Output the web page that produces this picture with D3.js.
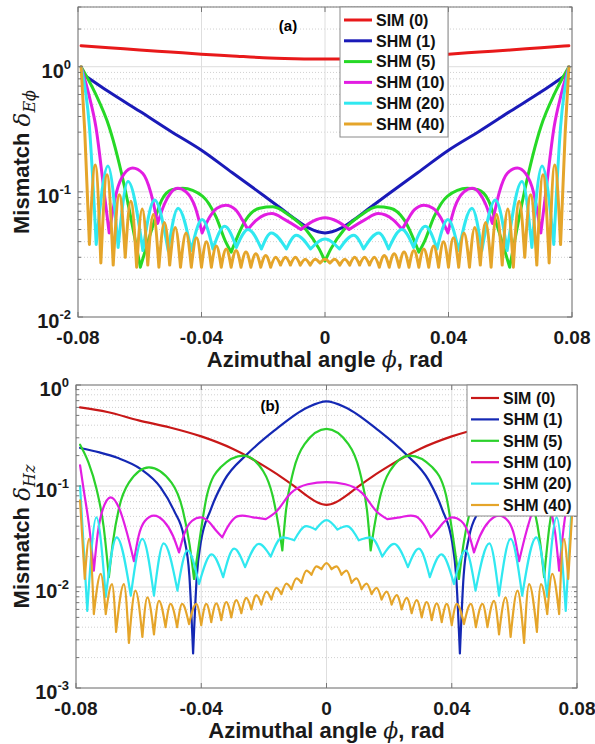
<!DOCTYPE html>
<html>
<head>
<meta charset="utf-8">
<script src="https://cdn.jsdelivr.net/npm/d3@7"></script>
<style>
  body { margin: 0; background: #fff; }
  svg { display: block; }
</style>
</head>
<body>
<div id="chart"></div>
<script>
// ---------- data ----------
const xTicks = [-0.08, -0.04, 0, 0.04, 0.08];
const xTickLabels = ["-0.08", "-0.04", "0", "0.04", "0.08"];
const seriesNames = ["SIM (0)", "SHM (1)", "SHM (5)", "SHM (10)", "SHM (20)", "SHM (40)"];
const aExponents = [-2, -1, 0];
const bExponents = [-3, -2, -1, 0];

// panel (a): mismatch of E_phi
const aSim = [[-0.079,1.47],[-0.07,1.42],[-0.06,1.36],[-0.05,1.31],[-0.04,1.26],[-0.03,1.22],[-0.02,1.18],[-0.01,1.16],[0,1.15],
  [0.01,1.16],[0.02,1.18],[0.03,1.22],[0.04,1.26],[0.05,1.31],[0.06,1.36],[0.07,1.42],[0.079,1.47]];
const aShm1 = [[-0.078,0.86],[-0.07,0.63],[-0.06,0.44],[-0.05,0.305],[-0.04,0.215],[-0.03,0.142],[-0.02,0.094],[-0.014,0.073],
  [-0.009,0.059],[-0.005,0.051],[0,0.047],[0.005,0.051],[0.009,0.059],[0.014,0.073],[0.02,0.094],[0.03,0.142],[0.04,0.215],
  [0.05,0.305],[0.06,0.44],[0.07,0.63],[0.078,0.86]];
const aShm5 = [[-0.079,1.0],[-0.0745,0.62],[-0.0699,0.33],[-0.0645,0.098],[-0.062,0.048],[-0.0598,0.025],[-0.0558,0.053],
  [-0.0529,0.086],[-0.0496,0.104],[-0.0461,0.107],[-0.0396,0.092],[-0.0353,0.063],[-0.0322,0.04],[-0.0304,0.033],[-0.0256,0.06],
  [-0.0212,0.074],[-0.0169,0.076],[-0.0116,0.065],[-0.0062,0.05],[-0.0019,0.035],[0,0.028],[0.0019,0.035],[0.0062,0.05],
  [0.0116,0.065],[0.0169,0.076],[0.0212,0.074],[0.0256,0.06],[0.0304,0.033],[0.0322,0.04],[0.0353,0.063],[0.0396,0.092],
  [0.0461,0.107],[0.0496,0.104],[0.0529,0.086],[0.0558,0.053],[0.0598,0.025],[0.062,0.048],[0.0645,0.098],[0.0699,0.33],
  [0.0745,0.62],[0.079,1.0]];
const aShm10 = [[-0.079,1.0],[-0.0765,0.6],[-0.0742,0.33],[-0.0715,0.098],[-0.0699,0.047],[-0.0675,0.1],[-0.065,0.14],
  [-0.0623,0.155],[-0.059,0.14],[-0.0565,0.1],[-0.0542,0.056],[-0.052,0.08],[-0.05,0.098],[-0.0477,0.107],[-0.045,0.1],
  [-0.042,0.075],[-0.0398,0.047],[-0.0375,0.062],[-0.035,0.074],[-0.0321,0.078],[-0.029,0.072],[-0.0268,0.06],[-0.025,0.05],
  [-0.022,0.06],[-0.0172,0.067],[-0.013,0.06],[-0.0078,0.05],[-0.004,0.058],[0,0.062],[0.004,0.058],[0.0078,0.05],[0.013,0.06],
  [0.0172,0.067],[0.022,0.06],[0.025,0.05],[0.0268,0.06],[0.029,0.072],[0.0321,0.078],[0.035,0.074],[0.0375,0.062],[0.0398,0.047],
  [0.042,0.075],[0.045,0.1],[0.0477,0.107],[0.05,0.098],[0.052,0.08],[0.0542,0.056],[0.0565,0.1],[0.059,0.14],[0.0623,0.155],
  [0.065,0.14],[0.0675,0.1],[0.0699,0.047],[0.0715,0.098],[0.0742,0.33],[0.0765,0.6],[0.079,1.0]];
const aShm20 = [[-0.079,1.0],[-0.0763,0.33],[-0.0741,0.038],[-0.0703,0.161],[-0.067,0.036],[-0.0638,0.121],[-0.059,0.034],
  [-0.0552,0.086],[-0.0508,0.034],[-0.0476,0.074],[-0.0433,0.034],[-0.0398,0.06],[-0.0363,0.035],[-0.0325,0.053],[-0.0287,0.036],
  [-0.0249,0.05],[-0.0206,0.035],[-0.0174,0.047],[-0.0125,0.035],[-0.0093,0.045],[-0.0047,0.035],[0,0.042],[0.0047,0.035],
  [0.0093,0.045],[0.0125,0.035],[0.0174,0.047],[0.0206,0.035],[0.0249,0.05],[0.0287,0.036],[0.0325,0.053],[0.0363,0.035],
  [0.0398,0.06],[0.0433,0.034],[0.0476,0.074],[0.0508,0.034],[0.0552,0.086],[0.059,0.034],[0.0638,0.121],[0.067,0.036],
  [0.0703,0.161],[0.0741,0.038],[0.0763,0.33],[0.079,1.0]];
const aShm40 = [[-0.079,1.0],[-0.0778,0.3],[-0.0763,0.038],[-0.0744,0.164],[-0.0726,0.027],[-0.0706,0.137],[-0.0686,0.026],
  [-0.0666,0.095],[-0.0647,0.03],[-0.0629,0.084],[-0.061,0.025],[-0.0592,0.073],[-0.0574,0.026],[-0.0556,0.066],[-0.0538,0.025],
  [-0.052,0.057],[-0.0503,0.026],[-0.0485,0.052],[-0.0468,0.025],[-0.045,0.047],[-0.0433,0.025],[-0.0416,0.043],[-0.04,0.025],
  [-0.0384,0.04],[-0.0368,0.025],[-0.0352,0.037],[-0.0336,0.025],[-0.032,0.035],[-0.0304,0.025],[-0.0288,0.034],[-0.0272,0.025],
  [-0.0256,0.033],[-0.024,0.025],[-0.0224,0.032],[-0.0208,0.025],[-0.0192,0.031],[-0.0176,0.025],[-0.016,0.03],[-0.0144,0.026],
  [-0.0128,0.03],[-0.0112,0.026],[-0.0096,0.03],[-0.008,0.026],[-0.0064,0.029],[-0.0048,0.026],[-0.0032,0.029],[-0.0016,0.027],
  [0,0.029],[0.0016,0.027],[0.0032,0.029],[0.0048,0.026],[0.0064,0.029],[0.008,0.026],[0.0096,0.03],[0.0112,0.026],[0.0128,0.03],
  [0.0144,0.026],[0.016,0.03],[0.0176,0.025],[0.0192,0.031],[0.0208,0.025],[0.0224,0.032],[0.024,0.025],[0.0256,0.033],
  [0.0272,0.025],[0.0288,0.034],[0.0304,0.025],[0.032,0.035],[0.0336,0.025],[0.0352,0.037],[0.0368,0.025],[0.0384,0.04],
  [0.04,0.025],[0.0416,0.043],[0.0433,0.025],[0.045,0.047],[0.0468,0.025],[0.0485,0.052],[0.0503,0.026],[0.052,0.057],
  [0.0538,0.025],[0.0556,0.066],[0.0574,0.026],[0.0592,0.073],[0.061,0.025],[0.0629,0.084],[0.0647,0.03],[0.0666,0.095],
  [0.0686,0.026],[0.0706,0.137],[0.0726,0.027],[0.0744,0.164],[0.0763,0.038],[0.0778,0.3],[0.079,1.0]];

// panel (b): mismatch of H_z
const bSim = [[-0.0787,0.6],[-0.07,0.54],[-0.06,0.447],[-0.05,0.38],[-0.04,0.31],[-0.03,0.234],[-0.025,0.195],[-0.02,0.158],
  [-0.015,0.126],[-0.01,0.098],[-0.006,0.079],[-0.003,0.069],[0,0.065],[0.003,0.069],[0.006,0.079],[0.01,0.098],[0.015,0.126],
  [0.02,0.158],[0.025,0.195],[0.03,0.234],[0.04,0.31],[0.05,0.38],[0.06,0.447],[0.07,0.54],[0.0787,0.6]];
const bShm1 = [[-0.0787,0.238],[-0.0725,0.215],[-0.0668,0.19],[-0.0593,0.147],[-0.053,0.097],[-0.0487,0.057],[-0.0455,0.031],
  [-0.0438,0.013],[-0.0426,0.0022],[-0.0414,0.013],[-0.0402,0.027],[-0.037,0.058],[-0.0327,0.113],[-0.0253,0.207],
  [-0.0167,0.353],[-0.0061,0.6],[0,0.69],[0.0061,0.6],[0.0167,0.353],[0.0253,0.207],[0.0327,0.113],[0.037,0.058],
  [0.0402,0.027],[0.0414,0.013],[0.0426,0.0022],[0.0438,0.013],[0.0455,0.031],[0.0487,0.057],[0.053,0.097],[0.0593,0.147],
  [0.0668,0.19],[0.0725,0.215],[0.0787,0.238]];
const bShm5 = [[-0.0787,0.256],[-0.076,0.17],[-0.0735,0.095],[-0.0712,0.04],[-0.0695,0.0125],[-0.0682,0.028],[-0.0663,0.06],
  [-0.0631,0.108],[-0.0567,0.153],[-0.0495,0.108],[-0.0459,0.058],[-0.0437,0.026],[-0.0423,0.012],[-0.0407,0.027],
  [-0.0381,0.083],[-0.0338,0.153],[-0.0265,0.2],[-0.0202,0.14],[-0.0172,0.08],[-0.0153,0.04],[-0.0141,0.023],[-0.013,0.055],
  [-0.0106,0.14],[-0.007,0.26],[0,0.367],[0.007,0.26],[0.0106,0.14],[0.013,0.055],[0.0141,0.023],[0.0153,0.04],[0.0172,0.08],
  [0.0202,0.14],[0.0265,0.2],[0.0338,0.153],[0.0381,0.083],[0.0407,0.027],[0.0423,0.012],[0.0437,0.026],[0.0459,0.058],
  [0.0495,0.108],[0.0567,0.153],[0.0631,0.108],[0.0663,0.06],[0.0682,0.028],[0.0695,0.0125],[0.0712,0.04],[0.0735,0.095],
  [0.076,0.17],[0.0787,0.256]];
const bShm10 = [[-0.0787,0.16],[-0.0775,0.09],[-0.0758,0.04],[-0.0743,0.0145],[-0.073,0.035],[-0.0715,0.058],[-0.0689,0.077],
  [-0.0662,0.06],[-0.0638,0.035],[-0.0615,0.018],[-0.06,0.032],[-0.058,0.045],[-0.0551,0.051],[-0.052,0.045],[-0.049,0.032],
  [-0.0471,0.022],[-0.0455,0.033],[-0.043,0.045],[-0.0402,0.049],[-0.0375,0.044],[-0.0352,0.036],[-0.0333,0.031],[-0.031,0.042],
  [-0.0285,0.05],[-0.0269,0.051],[-0.0235,0.049],[-0.0194,0.047],[-0.016,0.056],[-0.0114,0.085],[-0.006,0.104],[0,0.109],
  [0.006,0.104],[0.0114,0.085],[0.016,0.056],[0.0194,0.047],[0.0235,0.049],[0.0269,0.051],[0.0285,0.05],[0.031,0.042],
  [0.0333,0.031],[0.0352,0.036],[0.0375,0.044],[0.0402,0.049],[0.043,0.045],[0.0455,0.033],[0.0471,0.022],[0.049,0.032],
  [0.052,0.045],[0.0551,0.051],[0.058,0.045],[0.06,0.032],[0.0615,0.018],[0.0638,0.035],[0.0662,0.06],[0.0689,0.077],
  [0.0715,0.058],[0.073,0.035],[0.0743,0.0145],[0.0758,0.04],[0.0775,0.09],[0.0787,0.16]];
const bShm20 = [[-0.0787,0.1],[-0.0777,0.03],[-0.0764,0.0058],[-0.0735,0.049],[-0.0705,0.008],[-0.067,0.031],[-0.0625,0.0082],
  [-0.0588,0.03],[-0.0551,0.0082],[-0.052,0.027],[-0.0476,0.0092],[-0.0444,0.023],[-0.0407,0.0107],[-0.0367,0.021],
  [-0.033,0.0125],[-0.0295,0.024],[-0.026,0.0157],[-0.0216,0.0267],[-0.0178,0.02],[-0.0141,0.031],[-0.0103,0.029],
  [-0.0065,0.04],[-0.0035,0.037],[0,0.046],[0.0035,0.037],[0.0065,0.04],[0.0103,0.029],[0.0141,0.031],[0.0178,0.02],
  [0.0216,0.0267],[0.026,0.0157],[0.0295,0.024],[0.033,0.0125],[0.0367,0.021],[0.0407,0.0107],[0.0444,0.023],[0.0476,0.0092],
  [0.052,0.027],[0.0551,0.0082],[0.0588,0.03],[0.0625,0.0082],[0.067,0.031],[0.0705,0.008],[0.0735,0.049],[0.0764,0.0058],
  [0.0777,0.03],[0.0787,0.1]];
const bShm40 = [[-0.0787,0.072],[-0.0772,0.012],[-0.0758,0.03],[-0.0743,0.0054],[-0.0721,0.0135],[-0.0705,0.0054],
  [-0.0685,0.0107],[-0.0672,0.0036],[-0.0647,0.0107],[-0.0631,0.0028],[-0.061,0.0092],[-0.0588,0.0032],[-0.0572,0.0079],
  [-0.0551,0.0034],[-0.0535,0.0073],[-0.0514,0.004],[-0.0498,0.0068],[-0.0477,0.004],[-0.0461,0.0068],[-0.0439,0.0043],
  [-0.0416,0.0068],[-0.04,0.0042],[-0.0384,0.0068],[-0.0368,0.0045],[-0.0352,0.0069],[-0.0336,0.0047],[-0.032,0.0071],
  [-0.0304,0.005],[-0.0288,0.0074],[-0.0272,0.0055],[-0.0256,0.0078],[-0.024,0.006],[-0.0224,0.0083],[-0.0208,0.0067],
  [-0.0192,0.009],[-0.0176,0.0075],[-0.016,0.0098],[-0.0144,0.0085],[-0.0128,0.0108],[-0.0112,0.0095],[-0.0096,0.0122],
  [-0.008,0.011],[-0.0064,0.0145],[-0.0048,0.0132],[-0.0032,0.016],[-0.0016,0.015],[0,0.0172],[0.0016,0.015],[0.0032,0.016],
  [0.0048,0.0132],[0.0064,0.0145],[0.008,0.011],[0.0096,0.0122],[0.0112,0.0095],[0.0128,0.0108],[0.0144,0.0085],[0.016,0.0098],
  [0.0176,0.0075],[0.0192,0.009],[0.0208,0.0067],[0.0224,0.0083],[0.024,0.006],[0.0256,0.0078],[0.0272,0.0055],[0.0288,0.0074],
  [0.0304,0.005],[0.032,0.0071],[0.0336,0.0047],[0.0352,0.0069],[0.0368,0.0045],[0.0384,0.0068],[0.04,0.0042],[0.0416,0.0068],
  [0.0439,0.0043],[0.0461,0.0068],[0.0477,0.004],[0.0498,0.0068],[0.0514,0.004],[0.0535,0.0073],[0.0551,0.0034],[0.0572,0.0079],
  [0.0588,0.0032],[0.061,0.0092],[0.0631,0.0028],[0.0647,0.0107],[0.0672,0.0036],[0.0685,0.0107],[0.0705,0.0054],[0.0721,0.0135],
  [0.0743,0.0054],[0.0758,0.03],[0.0772,0.012],[0.0787,0.072]];

// ---------- drawing ----------
const sans = "'Liberation Sans', Arial, sans-serif";
const serif = "'DejaVu Serif', 'Liberation Serif', serif";

const svg = d3.select("#chart").append("svg")
    .attr("width", 595)
    .attr("height", 744);

function pieces(pts) {
  // split a curve at its local minima so dips stay sharp
  const out = [];
  let cur = [pts[0]];
  for (let i = 1; i < pts.length; i++) {
    cur.push(pts[i]);
    if (i < pts.length - 1 && pts[i][1] < pts[i-1][1] && pts[i][1] < pts[i+1][1]) {
      out.push(cur);
      cur = [pts[i]];
    }
  }
  out.push(cur);
  return out;
}

function drawPanel(p) {
  const x = d3.scaleLinear().domain([-0.08, 0.08]).range([p.left, p.right]);
  const y = d3.scaleLog().domain(p.yDomain).range([p.bottom, p.top]);
  const g = svg.append("g");
  const isMajor = v => Math.abs(Math.log10(v) - Math.round(Math.log10(v))) < 1e-9;
  const yt = y.ticks();

  // grid
  g.selectAll(".minor").data(yt.filter(v => !isMajor(v))).enter().append("line")
    .attr("x1", p.left).attr("x2", p.right)
    .attr("y1", d => y(d)).attr("y2", d => y(d))
    .attr("stroke", "#c4c4c4").attr("stroke-width", 0.8).attr("stroke-dasharray", "1,2");
  g.selectAll(".major").data(yt.filter(isMajor)).enter().append("line")
    .attr("x1", p.left).attr("x2", p.right)
    .attr("y1", d => y(d)).attr("y2", d => y(d))
    .attr("stroke", "#dedede").attr("stroke-width", 1);
  g.selectAll(".vgrid").data(xTicks).enter().append("line")
    .attr("x1", d => x(d)).attr("x2", d => x(d))
    .attr("y1", p.top).attr("y2", p.bottom)
    .attr("stroke", "#dedede").attr("stroke-width", 1);

  // curves
  const clipId = "clip" + p.key;
  svg.append("clipPath").attr("id", clipId).append("rect")
    .attr("x", p.left).attr("y", p.top)
    .attr("width", p.right - p.left).attr("height", p.bottom - p.top);
  const line = d3.line().x(d => x(d[0])).y(d => y(d[1])).curve(d3.curveMonotoneX);
  const cg = g.append("g").attr("clip-path", `url(#${clipId})`);
  p.series.forEach((s, i) => {
    const parts = p.smooth.includes(i) ? [s] : pieces(s);
    cg.append("path")
      .attr("d", parts.map(line).join(""))
      .attr("fill", "none")
      .attr("stroke", p.colors[i])
      .attr("stroke-width", p.lw)
      .attr("stroke-linejoin", "round")
      .attr("stroke-linecap", "round");
  });

  // frame and ticks (inward, mirrored)
  g.append("rect")
    .attr("x", p.left).attr("y", p.top)
    .attr("width", p.right - p.left).attr("height", p.bottom - p.top)
    .attr("fill", "none").attr("stroke", "#767676").attr("stroke-width", 1);
  xTicks.forEach(t => {
    g.append("line").attr("x1", x(t)).attr("x2", x(t)).attr("y1", p.bottom).attr("y2", p.bottom - 5).attr("stroke", "#767676");
    g.append("line").attr("x1", x(t)).attr("x2", x(t)).attr("y1", p.top).attr("y2", p.top + 5).attr("stroke", "#767676");
  });
  yt.forEach(t => {
    const len = isMajor(t) ? 5 : 3;
    g.append("line").attr("x1", p.left).attr("x2", p.left + len).attr("y1", y(t)).attr("y2", y(t)).attr("stroke", "#767676");
    g.append("line").attr("x1", p.right).attr("x2", p.right - len).attr("y1", y(t)).attr("y2", y(t)).attr("stroke", "#767676");
  });

  // tick labels
  g.selectAll(".xl").data(xTicks).enter().append("text")
    .attr("x", d => x(d)).attr("y", p.bottom + 27)
    .attr("text-anchor", "middle")
    .attr("font-family", sans).attr("font-weight", "bold").attr("font-size", 19)
    .attr("fill", "#1a1a1a")
    .text((d, i) => xTickLabels[i]);
  p.exponents.forEach(e => {
    const t = g.append("text")
      .attr("x", p.left - 7).attr("y", y(Math.pow(10, e)) + 11)
      .attr("text-anchor", "end")
      .attr("font-family", sans).attr("font-weight", "bold").attr("fill", "#1a1a1a");
    t.append("tspan").attr("font-size", 20).text("10");
    t.append("tspan").attr("font-size", 13).attr("dy", -9).text(String(e));
  });

  // axis titles
  const xt = g.append("text")
    .attr("x", (p.left + p.right) / 2).attr("y", p.bottom + 50)
    .attr("text-anchor", "middle").attr("fill", "#1a1a1a").attr("font-size", 22);
  xt.append("tspan").attr("font-family", sans).attr("font-weight", "bold").text("Azimuthal angle ");
  xt.append("tspan").attr("font-family", serif).attr("font-style", "italic").text("\u03D5");
  xt.append("tspan").attr("font-family", sans).attr("font-weight", "bold").text(", rad");

  const ytl = g.append("text")
    .attr("transform", `translate(29,${(p.top + p.bottom) / 2}) rotate(-90)`)
    .attr("text-anchor", "middle").attr("fill", "#1a1a1a");
  ytl.append("tspan").attr("font-family", sans).attr("font-weight", "bold").attr("font-size", 22).text("Mismatch ");
  ytl.append("tspan").attr("font-family", serif).attr("font-style", "italic").attr("font-size", 23).attr("dy", 1).text("\u03B4");
  ytl.append("tspan").attr("font-family", serif).attr("font-style", "italic").attr("font-size", 16).attr("dy", 5).text(p.sub);

  // panel tag
  g.append("text").attr("x", p.tag[0]).attr("y", p.tag[1])
    .attr("text-anchor", "middle")
    .attr("font-family", sans).attr("font-weight", "bold").attr("font-size", 15)
    .text(p.tagText);

  // legend
  const L = p.legend;
  g.append("rect").attr("x", L.x).attr("y", L.y).attr("width", L.w).attr("height", L.h)
    .attr("fill", "#fff").attr("stroke", "#8a8a8a").attr("stroke-width", 1);
  seriesNames.forEach((name, i) => {
    const yy = L.y + L.first + i * L.step;
    g.append("line").attr("x1", L.x + 4).attr("x2", L.x + 32).attr("y1", yy).attr("y2", yy)
      .attr("stroke", p.colors[i]).attr("stroke-width", p.lw);
    g.append("text").attr("x", L.x + 36).attr("y", yy).attr("dy", "0.36em")
      .attr("font-family", sans).attr("font-weight", "bold").attr("font-size", 16)
      .attr("fill", "#111").text(name);
  });
}

drawPanel({
  key: "a", left: 78, right: 572, top: 7, bottom: 317,
  yDomain: [0.01, 3], exponents: aExponents, sub: "E\u03D5",
  series: [aSim, aShm1, aShm5, aShm10, aShm20, aShm40], smooth: [0, 1],
  colors: ["#e8191a", "#1a1ab8", "#26d926", "#e21de2", "#30e8f0", "#e5a52a"], lw: 3,
  tag: [288, 31], tagText: "(a)",
  legend: {x: 340, y: 7, w: 108, h: 130, first: 13, step: 20.8}
});

drawPanel({
  key: "b", left: 76, right: 577, top: 385, bottom: 688,
  yDomain: [0.001, 1], exponents: bExponents, sub: "Hz",
  series: [bSim, bShm1, bShm5, bShm10, bShm20, bShm40], smooth: [0],
  colors: ["#c81818", "#1428b4", "#2bd12b", "#e21de2", "#30e8f0", "#e5a52a"], lw: 2.2,
  tag: [270, 411], tagText: "(b)",
  legend: {x: 467, y: 385, w: 110, h: 131, first: 13, step: 21.4}
});
</script>
</body>
</html>
